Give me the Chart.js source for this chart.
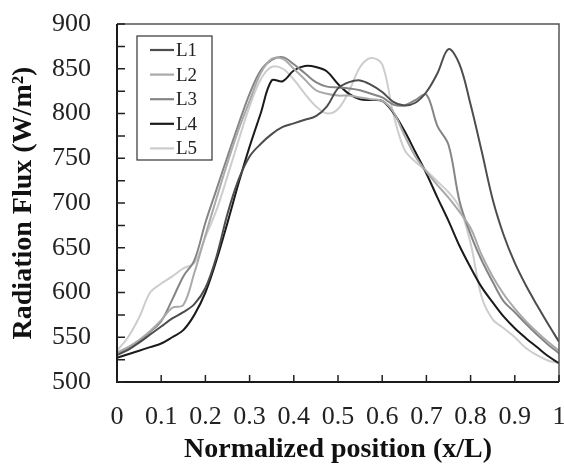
<!DOCTYPE html>
<html><head><meta charset="utf-8">
<script src="https://cdn.jsdelivr.net/npm/chart.js@4.4.0/dist/chart.umd.min.js"></script>
<style>html,body{margin:0;padding:0;background:#fff;}</style>
</head><body>
<canvas id="c" width="564" height="465"></canvas>
<script>
const xs = [0,0.025,0.05,0.075,0.1,0.125,0.15,0.175,0.2,0.225,0.25,0.275,0.3,0.325,0.35,0.375,0.4,0.425,0.45,0.475,0.5,0.525,0.55,0.575,0.6,0.625,0.65,0.675,0.7,0.725,0.75,0.775,0.8,0.825,0.85,0.875,0.9,0.925,0.95,0.975,1];
const seriesNames = ['L1','L2','L3','L4','L5'];
const L1 = [530,536,544,553,562,571,578,587,605,640,688,726,752,766,777,785,789,793,797,808,828,835,837,832,824,813,809,812,824,845,872,855,810,758,704,664,633,608,586,565,545];
const L2 = [533,539,547,557,569,583,586,622,664,705,745,782,814,845,861,861,850,838,826,822,820,820,818,816,814,802,776,752,735,720,706,690,672,642,618,598,582,568,556,545,535];
const L3 = [532,538,546,556,568,592,618,636,678,715,752,788,822,848,860,863,855,845,835,830,829,828,826,822,818,810,809,815,821,786,765,702,665,636,612,590,578,565,553,542,532];
const L4 = [527,531,535,539,543,550,558,575,600,636,678,722,763,800,837,836,848,853,852,847,833,822,816,815,814,801,781,757,733,706,680,652,628,606,589,573,560,549,539,529,521];
const L5 = [535,550,572,600,610,618,627,633,662,692,730,770,808,838,852,850,838,822,808,800,805,825,852,862,855,800,760,746,736,724,712,695,655,595,570,560,550,538,530,524,521];
const seriesValues = [L1,L2,L3,L4,L5];
const seriesColors = ['#4d4d4d','#a9a9a9','#858585','#1a1a1a','#cdcdcd'];
const xTicks = [0,0.1,0.2,0.3,0.4,0.5,0.6,0.7,0.8,0.9,1];
const yMin = 500, yMax = 900;

const FONT = "'Liberation Serif','Times New Roman',serif";

const frame = {
  id: 'frame',
  afterDraw(chart) {
    const {ctx, chartArea: a, scales} = chart;
    ctx.save();
    ctx.strokeStyle = '#555'; ctx.lineWidth = 1.5;
    ctx.beginPath(); ctx.moveTo(a.left, a.top); ctx.lineTo(a.right, a.top); ctx.lineTo(a.right, a.bottom); ctx.stroke();
    ctx.strokeStyle = '#1a1a1a'; ctx.lineWidth = 2;
    ctx.beginPath(); ctx.moveTo(a.left, a.top); ctx.lineTo(a.left, a.bottom); ctx.lineTo(a.right, a.bottom); ctx.stroke();
    ctx.lineWidth = 1.5; ctx.strokeStyle = '#222';
    ctx.beginPath();
    scales.y.ticks.forEach(t => {
      const py = scales.y.getPixelForValue(t.value);
      ctx.moveTo(a.left, py); ctx.lineTo(a.left + 8, py);
    });
    xTicks.forEach(v => {
      const px = scales.x.getPixelForValue(v);
      ctx.moveTo(px, a.bottom); ctx.lineTo(px, a.bottom - 7);
    });
    ctx.stroke();
    const bx = 137, by = 36, bw = 75, bh = 124;
    ctx.fillStyle = '#fff'; ctx.fillRect(bx, by, bw, bh);
    ctx.strokeStyle = '#333'; ctx.lineWidth = 1.2; ctx.strokeRect(bx, by, bw, bh);
    ctx.font = '19px ' + FONT; ctx.textBaseline = 'middle'; ctx.textAlign = 'left';
    chart.data.datasets.forEach((ds, i) => {
      const ly = 50 + i * 24.6;
      ctx.strokeStyle = ds.borderColor; ctx.lineWidth = 2.2;
      ctx.beginPath(); ctx.moveTo(150, ly); ctx.lineTo(174, ly); ctx.stroke();
      ctx.fillStyle = '#222'; ctx.fillText(ds.label, 176, ly + 1);
    });
    ctx.restore();
  }
};

function noPad(s) { s.paddingTop = 0; s.paddingBottom = 0; s.paddingLeft = 0; s.paddingRight = 0; }

new Chart(document.getElementById('c'), {
  type: 'line',
  data: {
    datasets: seriesNames.map((n, i) => ({
      label: n,
      data: xs.map((x, j) => ({x: x, y: seriesValues[i][j]})),
      borderColor: seriesColors[i],
      borderWidth: 2,
      pointRadius: 0,
      fill: false,
      tension: 0.35
    }))
  },
  options: {
    responsive: false,
    animation: false,
    devicePixelRatio: 1,
    layout: {padding: {left: 0, right: 5, top: 24, bottom: 0}},
    plugins: {legend: {display: false}, tooltip: {enabled: false}},
    scales: {
      x: {
        type: 'linear', min: 0, max: 1,
        afterBuildTicks(s) { s.ticks = xTicks.map(v => ({value: v})); },
        afterFit(s) { s.height = 83; noPad(s); },
        grid: {display: false, drawTicks: false},
        border: {display: false},
        ticks: {
          autoSkip: false, maxRotation: 0, padding: 20,
          color: '#222', font: {family: FONT, size: 26},
          callback: v => String(Math.round(v * 10) / 10)
        },
        title: {display: true, text: 'Normalized position (x/L)', color: '#111',
          font: {family: FONT, size: 28, weight: 'bold'}, padding: {top: 0, bottom: -2}}
      },
      y: {
        min: yMin, max: yMax,
        afterFit(s) { s.width = 117; noPad(s); },
        grid: {display: false, drawTicks: false},
        border: {display: false},
        ticks: {
          stepSize: 25, autoSkip: false, padding: 26,
          color: '#222', font: {family: FONT, size: 26},
          callback: v => (v % 50 === 0 ? String(v) : '')
        },
        title: {display: true, text: 'Radiation Flux (W/m²)', color: '#111',
          font: {family: FONT, size: 28, weight: 'bold'}, padding: {top: 7, bottom: 0}}
      }
    }
  },
  plugins: [frame]
});
</script>
</body></html>
